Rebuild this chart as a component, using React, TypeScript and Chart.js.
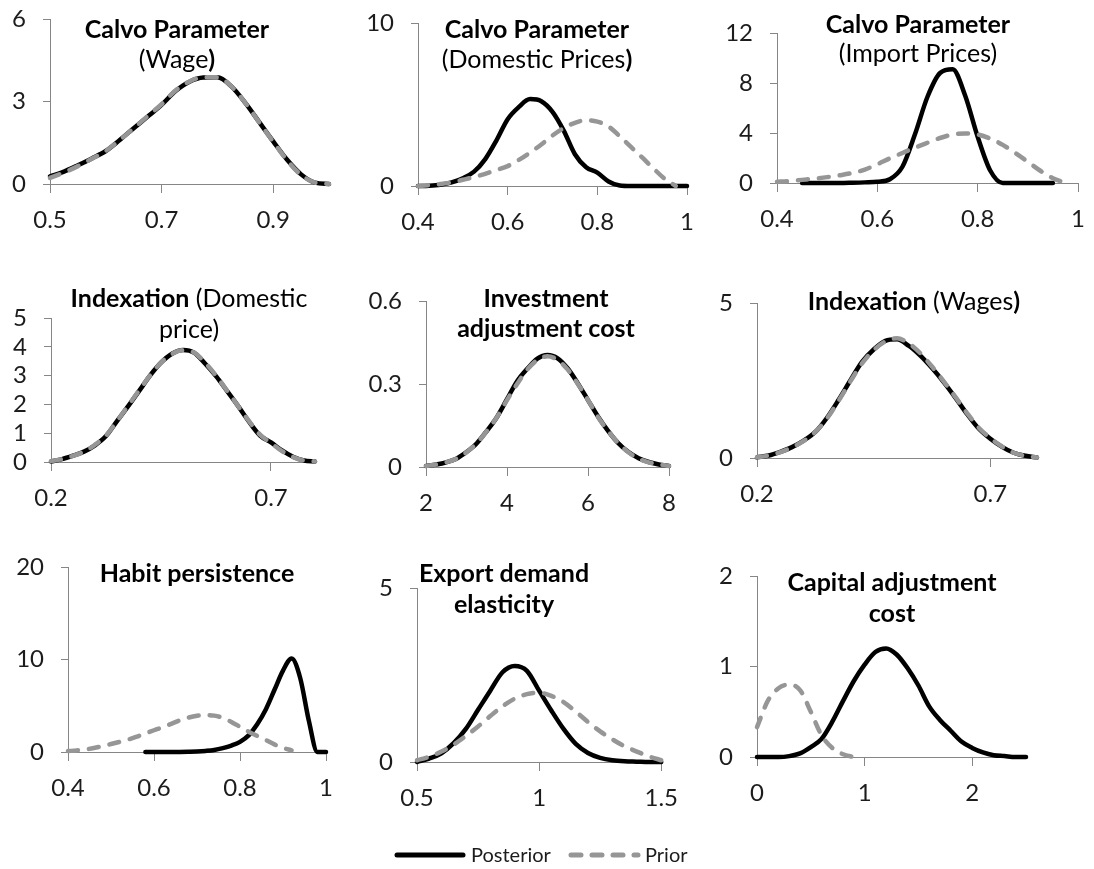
import React, { useEffect, useRef } from 'react';
import { Chart, registerables } from 'chart.js';

Chart.register(...registerables);

// ---------------- data ----------------
// Panel 1: Calvo Parameter (Wage)
const wageX = [0.5, 0.525, 0.55, 0.575, 0.6, 0.625, 0.65, 0.675, 0.7, 0.725, 0.75, 0.775, 0.8, 0.825, 0.85, 0.875, 0.9, 0.925, 0.95, 0.975, 1.0];
const wagePost = [0.28, 0.45, 0.68, 0.93, 1.2, 1.6, 2.03, 2.45, 2.88, 3.38, 3.72, 3.87, 3.88, 3.55, 2.95, 2.25, 1.55, 0.88, 0.35, 0.05, 0.0];
const wagePrior = [0.22, 0.42, 0.65, 0.92, 1.2, 1.6, 2.03, 2.47, 2.9, 3.4, 3.73, 3.88, 3.88, 3.55, 2.95, 2.24, 1.54, 0.86, 0.33, 0.05, 0.0];
const wageXTicks = [0.5, 0.7, 0.9];
const wageYTicks = [0, 3, 6];

// Panel 2: Calvo Parameter (Domestic Prices)
const domX = [0.4, 0.425, 0.45, 0.475, 0.5, 0.525, 0.55, 0.575, 0.6, 0.625, 0.65, 0.675, 0.7, 0.725, 0.75, 0.775, 0.8, 0.825, 0.85, 0.875, 0.9, 0.925, 0.95, 0.975, 1.0];
const domPost = [0, 0.02, 0.08, 0.22, 0.48, 0.88, 1.65, 2.8, 4.1, 4.85, 5.33, 5.2, 4.55, 3.4, 1.95, 1.15, 0.82, 0.28, 0.03, 0, 0, 0, 0, 0, 0];
const domPrior = [0, 0.05, 0.12, 0.22, 0.38, 0.55, 0.75, 0.98, 1.22, 1.6, 2.05, 2.55, 3.1, 3.55, 3.88, 4.03, 3.95, 3.65, 3.05, 2.4, 1.75, 1.08, 0.45, 0.0, null];
const domXTicks = [0.4, 0.6, 0.8, 1];
const domYTicks = [0, 10];

// Panel 3: Calvo Parameter (Import Prices)
const impX = [0.4, 0.425, 0.45, 0.475, 0.5, 0.525, 0.55, 0.575, 0.6, 0.625, 0.65, 0.675, 0.7, 0.725, 0.75, 0.775, 0.8, 0.825, 0.85, 0.875, 0.9, 0.925, 0.95, 0.975, 1.0];
const impPost = [null, null, 0, 0, 0, 0, 0.02, 0.05, 0.1, 0.3, 1.3, 3.9, 6.9, 8.8, 9.1, 7.0, 3.7, 1.0, 0, 0, 0, 0, 0, null, null];
const impPrior = [0.1, 0.15, 0.25, 0.35, 0.47, 0.62, 0.8, 1.07, 1.5, 1.97, 2.4, 2.83, 3.22, 3.6, 3.88, 3.97, 3.88, 3.55, 3.05, 2.4, 1.7, 0.98, 0.38, 0.0, null];
const impXTicks = [0.4, 0.6, 0.8, 1];
const impYTicks = [0, 4, 8, 12];

// Panel 4: Indexation (Domestic price)
const idpX = [0.2, 0.225, 0.25, 0.275, 0.3, 0.325, 0.35, 0.375, 0.4, 0.425, 0.45, 0.475, 0.5, 0.525, 0.55, 0.575, 0.6, 0.625, 0.65, 0.675, 0.7, 0.725, 0.75, 0.775, 0.8];
const idpPost = [0.02, 0.1, 0.22, 0.36, 0.58, 0.9, 1.42, 1.93, 2.46, 3.0, 3.45, 3.76, 3.89, 3.8, 3.42, 2.98, 2.47, 1.95, 1.4, 0.92, 0.68, 0.4, 0.18, 0.05, 0.02];
const idpPrior = [0.03, 0.1, 0.21, 0.36, 0.6, 0.92, 1.42, 1.95, 2.48, 3.0, 3.45, 3.75, 3.88, 3.8, 3.45, 3.0, 2.48, 1.95, 1.42, 0.95, 0.66, 0.38, 0.17, 0.05, 0.02];
const idpXTicks = [0.2, 0.7];
const idpYTicks = [0, 1, 2, 3, 4, 5];

// Panel 5: Investment adjustment cost
const invX = [2, 2.25, 2.5, 2.75, 3, 3.25, 3.5, 3.75, 4, 4.25, 4.5, 4.75, 5, 5.25, 5.5, 5.75, 6, 6.25, 6.5, 6.75, 7, 7.25, 7.5, 7.75, 8];
const invPost = [0.004, 0.009, 0.017, 0.03, 0.054, 0.085, 0.13, 0.18, 0.245, 0.31, 0.355, 0.392, 0.405, 0.393, 0.356, 0.302, 0.242, 0.182, 0.13, 0.086, 0.054, 0.032, 0.018, 0.009, 0.004];
const invPrior = [0.004, 0.009, 0.017, 0.03, 0.053, 0.086, 0.13, 0.18, 0.242, 0.3, 0.352, 0.387, 0.4, 0.387, 0.352, 0.3, 0.242, 0.18, 0.13, 0.086, 0.053, 0.03, 0.017, 0.009, 0.004];
const invXTicks = [2, 4, 6, 8];
const invYTicks = [0, 0.3, 0.6];

// Panel 6: Indexation (Wages)
const iwX = [0.2, 0.225, 0.25, 0.275, 0.3, 0.325, 0.35, 0.375, 0.4, 0.425, 0.45, 0.475, 0.5, 0.525, 0.55, 0.575, 0.6, 0.625, 0.65, 0.675, 0.7, 0.725, 0.75, 0.775, 0.8];
const iwPost = [0.02, 0.08, 0.2, 0.35, 0.56, 0.84, 1.3, 1.88, 2.5, 3.1, 3.5, 3.78, 3.83, 3.62, 3.3, 2.9, 2.45, 1.95, 1.42, 0.95, 0.62, 0.36, 0.17, 0.07, 0.02];
const iwPrior = [0.02, 0.08, 0.19, 0.34, 0.55, 0.84, 1.28, 1.85, 2.47, 3.05, 3.48, 3.76, 3.86, 3.7, 3.38, 2.95, 2.47, 1.97, 1.45, 0.98, 0.64, 0.37, 0.17, 0.07, 0.02];
const iwXTicks = [0.2, 0.7];
const iwYTicks = [0, 5];

// Panel 7: Habit persistence
const habX = [0.4, 0.42, 0.44, 0.46, 0.48, 0.5, 0.52, 0.54, 0.56, 0.58, 0.6, 0.62, 0.64, 0.66, 0.68, 0.7, 0.72, 0.74, 0.76, 0.78, 0.8, 0.82, 0.84, 0.86, 0.88, 0.9, 0.92, 0.94, 0.96, 0.98, 1.0];
const habPost = [null, null, null, null, null, null, null, null, null, 0, 0, 0, 0, 0.01, 0.03, 0.06, 0.12, 0.22, 0.42, 0.7, 1.1, 1.8, 3.0, 4.6, 6.7, 8.8, 10.1, 8.0, 3.4, 0.0, 0];
const habPrior = [0.1, 0.17, 0.28, 0.43, 0.63, 0.86, 1.1, 1.35, 1.65, 2.0, 2.35, 2.68, 3.05, 3.42, 3.72, 3.92, 4.0, 3.93, 3.7, 3.25, 2.73, 2.2, 1.75, 1.3, 0.82, 0.45, 0.18, null, null, null, null];
const habXTicks = [0.4, 0.6, 0.8, 1];
const habYTicks = [0, 10, 20];

// Panel 8: Export demand elasticity
const expX = [0.5, 0.55, 0.6, 0.65, 0.7, 0.75, 0.8, 0.85, 0.9, 0.95, 1.0, 1.05, 1.1, 1.15, 1.2, 1.25, 1.3, 1.35, 1.4, 1.45, 1.5];
const expPost = [0, 0.1, 0.25, 0.54, 0.95, 1.5, 2.05, 2.58, 2.76, 2.62, 2.05, 1.48, 0.95, 0.52, 0.26, 0.12, 0.05, 0.02, 0.01, 0, 0];
const expPrior = [0.05, 0.15, 0.3, 0.5, 0.75, 1.02, 1.32, 1.6, 1.82, 1.95, 1.99, 1.9, 1.72, 1.45, 1.15, 0.88, 0.65, 0.45, 0.3, 0.16, 0.05];
const expXTicks = [0.5, 1, 1.5];
const expYTicks = [0, 5];

// Panel 9: Capital adjustment cost
const capX = [0, 0.1, 0.2, 0.3, 0.4, 0.5, 0.6, 0.7, 0.8, 0.9, 1.0, 1.1, 1.2, 1.3, 1.4, 1.5, 1.6, 1.7, 1.8, 1.9, 2.0, 2.1, 2.2, 2.3, 2.4, 2.5];
const capPost = [0, 0, 0, 0.01, 0.04, 0.11, 0.2, 0.39, 0.62, 0.84, 1.02, 1.16, 1.2, 1.13, 0.98, 0.79, 0.56, 0.41, 0.29, 0.17, 0.1, 0.05, 0.02, 0.01, 0, 0];
const capPrior = [0.33, 0.62, 0.76, 0.8, 0.74, 0.5, 0.24, 0.1, 0.03, 0, null, null, null, null, null, null, null, null, null, null, null, null, null, null, null, null];
const capXTicks = [0, 1, 2];
const capYTicks = [0, 1, 2];

const seriesLabels = ['Posterior', 'Prior'];

// ---------------- styling / layout ----------------
const FONT = "Lato, 'Open Sans', 'DejaVu Sans', sans-serif";
const AXIS = '#868686';
const TEXT = '#1c1c1c';
const POST = '#000000';
const PRIOR = '#969696';
const TITLE_SIZE = 25;
const TICK_SIZE = 24;
const LINE_W = 4.5;

const YW = 64; // y-axis box width
const TP = 40; // top padding
const RP = 20; // right padding
const BP = 50; // x-axis box height

type Seg = [string, boolean];
type TLine = { base: number; segs: Seg[] };
interface PanelDef {
  x: number[];
  post: (number | null)[];
  prior: (number | null)[];
  xMin: number;
  xMax: number;
  xTicks: number[];
  yMax: number;
  yTicks: number[];
  area: [number, number, number, number];
  cx: number;
  lines: TLine[];
}

const PANELS: PanelDef[] = [
  {
    x: wageX, post: wagePost, prior: wagePrior, xMin: 0.5, xMax: 1.0, xTicks: wageXTicks, yMax: 6, yTicks: wageYTicks,
    area: [50, 19, 329, 184], cx: 177,
    lines: [{ base: 38, segs: [['Calvo Parameter', true]] }, { base: 68, segs: [['(Wage', false], [')', true]] }],
  },
  {
    x: domX, post: domPost, prior: domPrior, xMin: 0.4, xMax: 1.0, xTicks: domXTicks, yMax: 10, yTicks: domYTicks,
    area: [418, 23, 687, 186], cx: 537,
    lines: [{ base: 38, segs: [['Calvo Parameter', true]] }, { base: 68, segs: [['(Domestic Prices', false], [')', true]] }],
  },
  {
    x: impX, post: impPost, prior: impPrior, xMin: 0.4, xMax: 1.0, xTicks: impXTicks, yMax: 12, yTicks: impYTicks,
    area: [777, 33, 1078, 183], cx: 918,
    lines: [{ base: 33, segs: [['Calvo Parameter', true]] }, { base: 62, segs: [['(Import Prices)', false]] }],
  },
  {
    x: idpX, post: idpPost, prior: idpPrior, xMin: 0.2, xMax: 0.8, xTicks: idpXTicks, yMax: 5, yTicks: idpYTicks,
    area: [51, 318, 315, 462], cx: 189,
    lines: [{ base: 307, segs: [['Indexation', true], [' (Domestic', false]] }, { base: 338, segs: [['price)', false]] }],
  },
  {
    x: invX, post: invPost, prior: invPrior, xMin: 2, xMax: 8, xTicks: invXTicks, yMax: 0.6, yTicks: invYTicks,
    area: [426, 301, 669, 467], cx: 546,
    lines: [{ base: 307, segs: [['Investment', true]] }, { base: 337, segs: [['adjustment cost', true]] }],
  },
  {
    x: iwX, post: iwPost, prior: iwPrior, xMin: 0.2, xMax: 0.8, xTicks: iwXTicks, yMax: 5, yTicks: iwYTicks,
    area: [757, 303, 1037, 458], cx: 914,
    lines: [{ base: 310, segs: [['Indexation', true], [' (Wages', false], [')', true]] }],
  },
  {
    x: habX, post: habPost, prior: habPrior, xMin: 0.4, xMax: 1.0, xTicks: habXTicks, yMax: 20, yTicks: habYTicks,
    area: [68, 567, 326, 752], cx: 197,
    lines: [{ base: 582, segs: [['Habit persistence', true]] }],
  },
  {
    x: expX, post: expPost, prior: expPrior, xMin: 0.5, xMax: 1.5, xTicks: expXTicks, yMax: 5, yTicks: expYTicks,
    area: [417, 588, 671, 762], cx: 504,
    lines: [{ base: 582, segs: [['Export demand', true]] }, { base: 613, segs: [['elasticity', true]] }],
  },
  {
    x: capX, post: capPost, prior: capPrior, xMin: 0, xMax: 2.5, xTicks: capXTicks, yMax: 2, yTicks: capYTicks,
    area: [757, 576, 1026, 757], cx: 892,
    lines: [{ base: 591, segs: [['Capital adjustment', true]] }, { base: 622, segs: [['cost', true]] }],
  },
];

function Panel({ def }: { def: PanelDef }) {
  const ref = useRef<HTMLCanvasElement>(null);
  const [l, t, r, b] = def.area;
  const left = l - YW;
  const top = t - TP;
  const cw = r - l + YW + RP;
  const ch = b - t + TP + BP;

  useEffect(() => {
    const canvas = ref.current;
    if (!canvas) return;
    const titlePlugin = {
      id: 'panelTitle',
      afterDraw(chart: any) {
        const ctx = chart.ctx as CanvasRenderingContext2D;
        ctx.save();
        ctx.fillStyle = '#000';
        ctx.textBaseline = 'alphabetic';
        ctx.textAlign = 'left';
        for (const line of def.lines) {
          let total = 0;
          const widths: number[] = [];
          for (const [txt, bold] of line.segs) {
            ctx.font = `${bold ? 'bold ' : ''}${TITLE_SIZE}px ${FONT}`;
            const w = ctx.measureText(txt).width;
            widths.push(w);
            total += w;
          }
          let x = def.cx - left - total / 2;
          const y = line.base - top;
          line.segs.forEach(([txt, bold], i) => {
            ctx.font = `${bold ? 'bold ' : ''}${TITLE_SIZE}px ${FONT}`;
            ctx.fillText(txt, x, y);
            x += widths[i];
          });
        }
        ctx.restore();
      },
    };

    const chart = new Chart(canvas, {
      type: 'line',
      data: {
        datasets: [
          {
            label: seriesLabels[0],
            data: def.x.map((v, i) => ({ x: v, y: def.post[i] })) as any,
            borderColor: POST,
            borderWidth: LINE_W,
            borderCapStyle: 'round',
            borderJoinStyle: 'round',
            pointRadius: 0,
            fill: false,
            cubicInterpolationMode: 'monotone',
            order: 2,
            clip: false as any,
          },
          {
            label: seriesLabels[1],
            data: def.x.map((v, i) => ({ x: v, y: def.prior[i] })) as any,
            borderColor: PRIOR,
            borderWidth: LINE_W,
            borderDash: [10, 11],
            borderCapStyle: 'round',
            borderJoinStyle: 'round',
            pointRadius: 0,
            fill: false,
            cubicInterpolationMode: 'monotone',
            order: 1,
            clip: false as any,
          },
        ],
      },
      options: {
        animation: false,
        responsive: false,
        maintainAspectRatio: false,
        events: [],
        layout: { padding: { top: TP, right: RP, left: 0, bottom: 0 } },
        plugins: {
          legend: { display: false },
          tooltip: { enabled: false },
        },
        scales: {
          x: {
            type: 'linear',
            min: def.xMin,
            max: def.xMax,
            afterBuildTicks: (s: any) => {
              s.ticks = def.xTicks.map((value) => ({ value }));
            },
            afterFit: (s: any) => {
              s.height = BP;
            },
            ticks: {
              callback: (v: any) => String(v),
              font: { family: FONT, size: TICK_SIZE },
              color: TEXT,
              padding: 13,
              maxRotation: 0,
              autoSkip: false,
            },
            grid: { drawOnChartArea: false, drawTicks: true, tickLength: 9, color: AXIS, lineWidth: 1 },
            border: { display: true, color: AXIS, width: 1 },
          },
          y: {
            type: 'linear',
            min: 0,
            max: def.yMax,
            afterBuildTicks: (s: any) => {
              s.ticks = def.yTicks.map((value) => ({ value }));
            },
            afterFit: (s: any) => {
              s.width = YW;
            },
            ticks: {
              callback: (v: any) => String(v),
              font: { family: FONT, size: TICK_SIZE },
              color: TEXT,
              padding: 17,
              autoSkip: false,
            },
            grid: { drawOnChartArea: false, drawTicks: true, tickLength: 7, color: AXIS, lineWidth: 1 },
            border: { display: true, color: AXIS, width: 1 },
          },
        },
      } as any,
      plugins: [titlePlugin],
    });
    return () => chart.destroy();
  }, []);

  return (
    <canvas
      ref={ref}
      width={cw}
      height={ch}
      style={{ position: 'absolute', left, top, width: cw, height: ch }}
    />
  );
}

export default function App() {
  return (
    <div
      style={{
        position: 'absolute',
        left: 0,
        top: 0,
        width: 1094,
        height: 869,
        overflow: 'hidden',
        background: '#fff',
      }}
    >
      {PANELS.map((p, i) => (
        <Panel key={i} def={p} />
      ))}
      <svg
        width={1094}
        height={869}
        style={{ position: 'absolute', left: 0, top: 0, pointerEvents: 'none' }}
      >
        <line x1={397} y1={855} x2={463} y2={855} stroke={POST} strokeWidth={5} strokeLinecap="round" />
        <text x={471} y={862} fontFamily={FONT} fontSize={20} fill={TEXT}>
          {seriesLabels[0]}
        </text>
        <line
          x1={571}
          y1={855}
          x2={638}
          y2={855}
          stroke={PRIOR}
          strokeWidth={5}
          strokeDasharray="10 11"
          strokeLinecap="round"
        />
        <text x={645} y={862} fontFamily={FONT} fontSize={20} fill={TEXT}>
          {seriesLabels[1]}
        </text>
      </svg>
    </div>
  );
}
